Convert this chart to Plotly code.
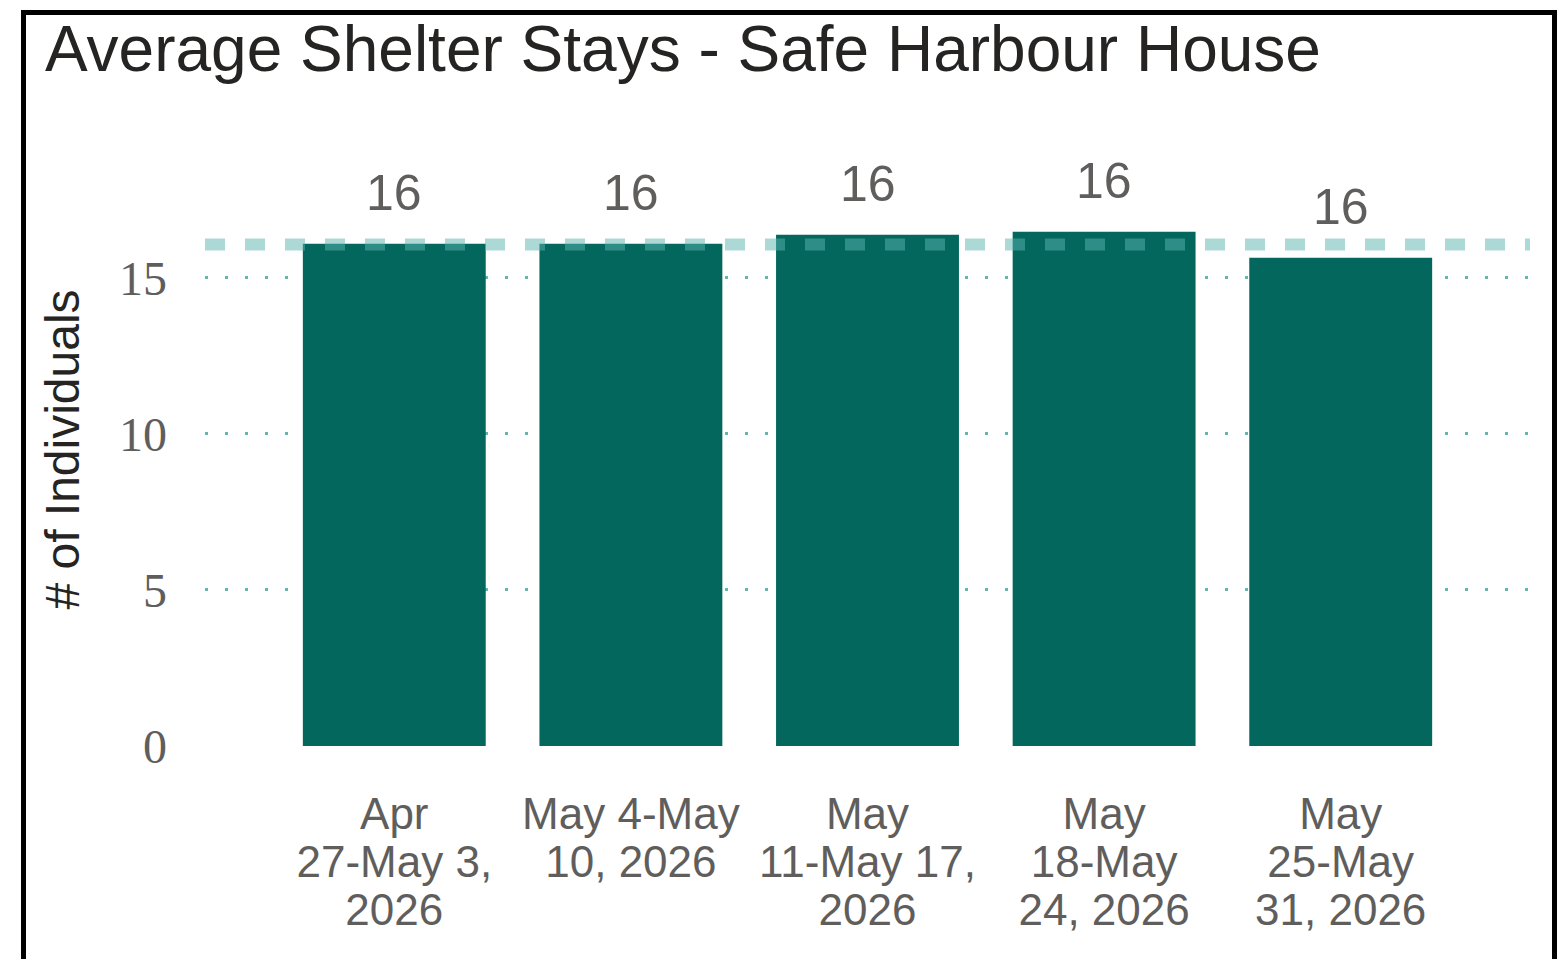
import plotly.graph_objects as go

# ---- data ----
week_labels = [
    "Apr<br>27-May 3,<br>2026",
    "May 4-May<br>10, 2026",
    "May<br>11-May 17,<br>2026",
    "May<br>18-May<br>24, 2026",
    "May<br>25-May<br>31, 2026",
]
avg_stay = [16.09, 16.09, 16.38, 16.48, 15.64]
average_line = 16.07
y_ticks = [0, 5, 10, 15]

# ---- styles ----
BAR = "#03675E"
GRID = "#5DB8AE"
AVG = "rgba(89,179,173,0.5)"
GREY = "#605E5C"
DARK = "#252423"
SANS = "Liberation Sans, Arial, sans-serif"
SERIF = "Liberation Serif, Times New Roman, serif"

W, H = 1559, 959
ML, MR, MT, MB = 205, 29, 153, 213
PW, PH = W - ML - MR, H - MT - MB

def big(s, size=44):
    return "<br>".join(f"<span style='font-size:{size}px'>{p}</span>" for p in s.split("<br>"))

cats = list(range(len(avg_stay)))

fig = go.Figure()
fig.add_trace(go.Bar(
    x=cats, y=avg_stay, marker=dict(color=BAR, line=dict(width=0)),
    width=0.773, hoverinfo="skip",
))

for c, v in zip(cats, avg_stay):
    fig.add_annotation(
        x=c, y=v, text=f"{v:.0f}", showarrow=False, yanchor="bottom",
        yshift=21, font=dict(family=SANS, size=50, color=GREY),
    )

fig.add_shape(type="line", xref="paper", yref="y", x0=0, x1=1,
              y0=average_line, y1=average_line, layer="above",
              line=dict(color=AVG, width=12, dash="20px,20px"))

# outer frame (screen pixel positions converted to paper units)
def px_x(p):
    return (p - ML) / PW

def px_y(p):
    return (H - MB - p) / PH

fig.add_shape(type="rect", xref="paper", yref="paper",
              x0=px_x(23.5), x1=px_x(1554.5), y0=px_y(1000), y1=px_y(12.5),
              line=dict(color="black", width=5), fillcolor="rgba(0,0,0,0)", layer="above")

fig.update_layout(
    width=W, height=H,
    margin=dict(l=ML, r=MR, t=MT, b=MB, autoexpand=False),
    paper_bgcolor="white", plot_bgcolor="white",
    showlegend=False,
    title=dict(text="Average Shelter Stays - Safe Harbour House",
               x=45 / W, xanchor="left", xref="container",
               y=1 - 49 / H, yanchor="middle", yref="container",
               font=dict(family=SANS, size=64, color=DARK)),
    xaxis=dict(
        tickmode="array", tickvals=cats, ticktext=[big(t) for t in week_labels],
        range=[-0.8, 4.8], showgrid=False, zeroline=False, showline=False,
        ticks="", tickfont=dict(family=SANS, size=37, color=GREY),
        ticklabelstandoff=45, automargin=False,
    ),
    yaxis=dict(
        range=[0, 19], tickvals=y_ticks, ticks="", showline=False, zeroline=False,
        showgrid=True, gridcolor=GRID, gridwidth=3, griddash="3px,17px",
        tickfont=dict(family=SERIF, size=48, color=GREY),
        ticklabelstandoff=37, automargin=False,
        title=dict(text="# of Individuals", standoff=24,
                   font=dict(family=SANS, size=48, color=DARK)),
    ),
)

fig.write_html(
    "out.html",
    config={"displayModeBar": False},
    post_script="document.body.style.margin='0';document.body.style.overflow='hidden';",
)
